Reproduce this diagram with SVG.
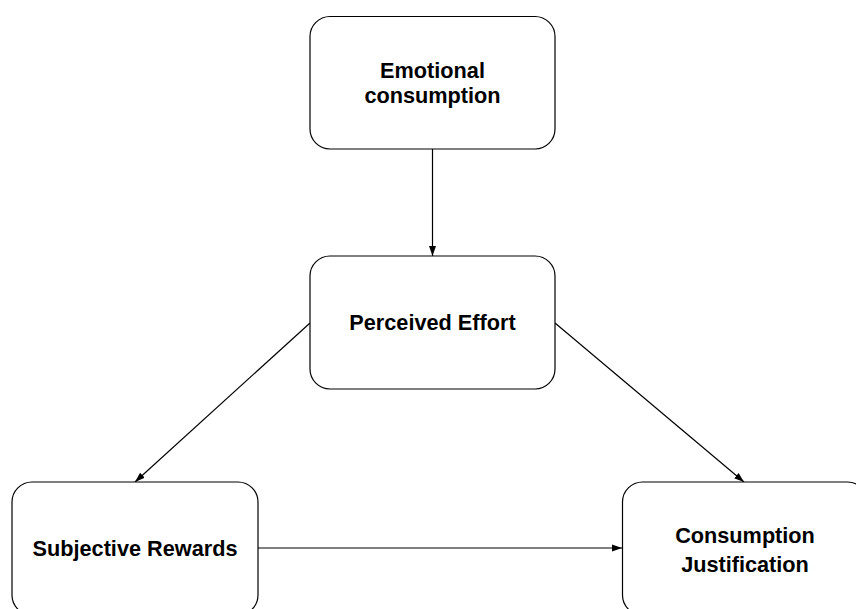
<svg xmlns="http://www.w3.org/2000/svg" width="856" height="609" viewBox="0 0 856 609">
<style>
.box{fill:#fff;stroke:#000;stroke-width:1.2}
.lbl{font-family:"Liberation Sans",Arial,sans-serif;font-weight:bold;font-size:21.7px;fill:#000;text-anchor:middle}
.edge{stroke:#000;stroke-width:1.2;fill:none;marker-end:url(#arr)}
</style>
<defs>
<marker id="arr" viewBox="0 0 10 10" refX="10" refY="5" markerWidth="10" markerHeight="10" markerUnits="userSpaceOnUse" orient="auto">
<path d="M0,1.5 L10,5 L0,8.5 Z" fill="#000"/>
</marker>
</defs>
<rect width="856" height="609" fill="#fff"/>
<g id="connectors">
<line class="edge" x1="432.5" y1="149" x2="432.5" y2="256"/>
<line class="edge" x1="310" y1="323" x2="135" y2="482"/>
<line class="edge" x1="555" y1="323" x2="744" y2="482"/>
<line class="edge" x1="258" y1="548" x2="622" y2="548"/>
</g>
<g id="emotional">
<rect class="box" x="310" y="16.5" width="245" height="132.5" rx="20"/>
<text class="lbl" x="432.5" y="77.5">Emotional</text>
<text class="lbl" x="432.5" y="102.5">consumption</text>
</g>
<g id="perceived">
<rect class="box" x="310" y="256" width="245" height="133" rx="20"/>
<text class="lbl" x="432.5" y="330">Perceived Effort</text>
</g>
<g id="subjective">
<rect class="box" x="12" y="482" width="246" height="133" rx="20"/>
<text class="lbl" x="135" y="556">Subjective Rewards</text>
</g>
<g id="justification">
<rect class="box" x="622.5" y="482" width="245" height="133" rx="20"/>
<text class="lbl" x="745" y="542.5">Consumption</text>
<text class="lbl" x="745" y="572">Justification</text>
</g>
</svg>
